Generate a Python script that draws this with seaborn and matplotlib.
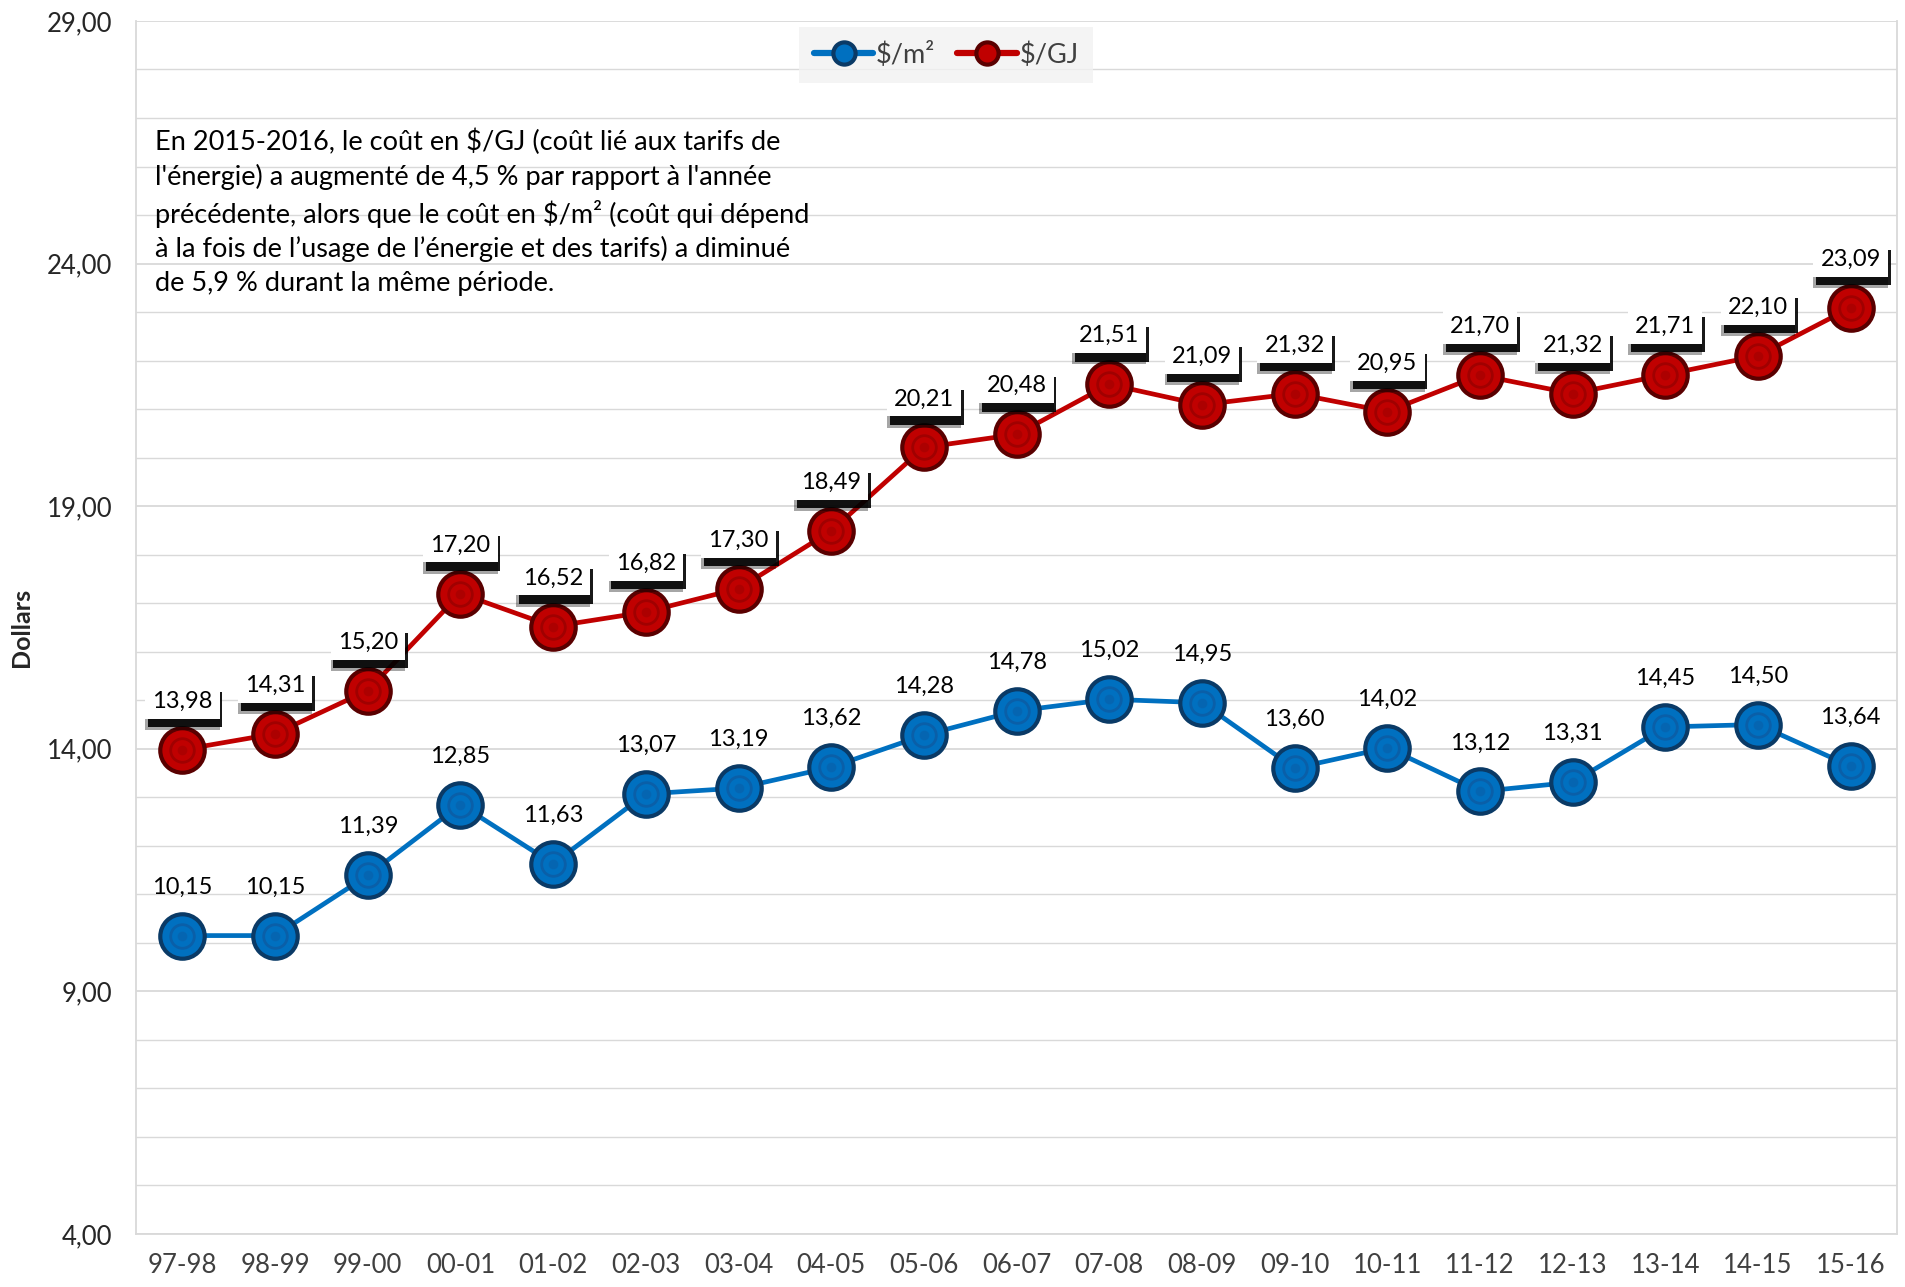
import matplotlib
matplotlib.use("Agg")
import matplotlib.pyplot as plt
import matplotlib.patheffects as pe
import seaborn as sns
import pandas as pd
import numpy as np

# ==============================
# Data
# ==============================
years = ["97-98", "98-99", "99-00", "00-01", "01-02", "02-03", "03-04", "04-05",
         "05-06", "06-07", "07-08", "08-09", "09-10", "10-11", "11-12", "12-13",
         "13-14", "14-15", "15-16"]
cost_m2 = [10.15, 10.15, 11.39, 12.85, 11.63, 13.07, 13.19, 13.62, 14.28, 14.78,
           15.02, 14.95, 13.60, 14.02, 13.12, 13.31, 14.45, 14.50, 13.64]
cost_gj = [13.98, 14.31, 15.20, 17.20, 16.52, 16.82, 17.30, 18.49, 20.21, 20.48,
           21.51, 21.09, 21.32, 20.95, 21.70, 21.32, 21.71, 22.10, 23.09]
y_ticks = [4, 9, 14, 19, 24, 29]
note = ("En 2015-2016, le coût en $/GJ (coût lié aux tarifs de\n"
        "l'énergie) a augmenté de 4,5 % par rapport à l'année\n"
        "précédente, alors que le coût en $/m² (coût qui dépend\n"
        "à la fois de l’usage de l’énergie et des tarifs) a diminué\n"
        "de 5,9 % durant la même période.")

df = pd.DataFrame({"idx": np.arange(len(years)), "m2": cost_m2, "gj": cost_gj})

sns.set_style("white")
plt.rcParams["font.family"] = ["Lato", "DejaVu Sans"]

fig = plt.figure(figsize=(19.06, 12.87), dpi=100)
ax = fig.add_axes([0.0714, 0.0412, 0.9239, 0.9425])

grid_c = "#d9d9d9"
for v in np.arange(4, 30, 1):
    ax.axhline(v, color=grid_c, lw=1.3 if v in y_ticks else 1.0, zorder=0)

series = [("m2", "$/m²", "#0070c0", "#0a3a66", "#0a5fa8"),
          ("gj", "$/GJ", "#c00000", "#5a0000", "#a00000")]
for col, lab, c, dark, mid in series:
    sns.lineplot(data=df, x="idx", y=col, ax=ax, color=c, lw=3.4, label=lab,
                 marker="o", markersize=32, markerfacecolor=c,
                 markeredgecolor=dark, markeredgewidth=3, zorder=3)
    ax.plot(df["idx"], df[col], ls="none", marker="o", markersize=17,
            markerfacecolor=c, markeredgecolor=mid, markeredgewidth=2, zorder=4)
    ax.plot(df["idx"], df[col], ls="none", marker="o", markersize=7,
            markerfacecolor=mid, markeredgecolor="none", alpha=0.6, zorder=5)

# data labels
for i, v in enumerate(cost_m2):
    ax.annotate(f"{v:.2f}".replace(".", ","), (i, v), xytext=(0, 35),
                textcoords="offset points", ha="center", va="center",
                fontsize=17, color="black", zorder=6)
for i, v in enumerate(cost_gj):
    t = ax.annotate(f"{v:.2f}".replace(".", ","), (i, v), xytext=(0, 35),
                    textcoords="offset points", ha="center", va="center",
                    fontsize=17, color="black", zorder=6,
                    bbox=dict(boxstyle="square,pad=0.3", fc="white", ec="none"))
    t.get_bbox_patch().set_path_effects([
        pe.SimplePatchShadow(offset=(0, -8), shadow_rgbFace="black", alpha=0.35),
        pe.SimplePatchShadow(offset=(2, -6), shadow_rgbFace="black", alpha=0.9),
        pe.Normal()])

ax.text(0.011, 0.911, note, transform=ax.transAxes, ha="left", va="top",
        fontsize=19.5, linespacing=1.41, color="black")

ax.set_xlim(-0.5, len(years) - 0.5)
ax.set_ylim(4, 29)
ax.set_yticks(y_ticks)
ax.set_yticklabels([f"{v:.2f}".replace(".", ",") for v in y_ticks], fontsize=18.5)
ax.set_xticks(df["idx"])
ax.set_xticklabels(years, fontsize=18.5, color="#404040")
ax.set_xticks(np.arange(-0.5, len(years), 1), minor=True)
ax.tick_params(axis="x", which="major", length=0, pad=14)
ax.tick_params(axis="x", which="minor", length=9, color=grid_c, width=1.3)
ax.tick_params(axis="y", length=9, color=grid_c, width=1.3, pad=8)
ax.set_xlabel("")
ax.set_ylabel("Dollars", fontsize=18, fontweight="bold", labelpad=10)

for s in ["left", "bottom", "right"]:
    ax.spines[s].set_color(grid_c)
    ax.spines[s].set_linewidth(1.3)
ax.spines["top"].set_visible(False)

leg = ax.legend(loc="upper center", bbox_to_anchor=(0.46, 0.995), ncol=2,
                fontsize=19.5, frameon=True, fancybox=False, handlelength=2.2,
                handletextpad=0.1, columnspacing=0.8, borderpad=0.55,
                borderaxespad=0, markerscale=0.5)
leg.get_frame().set_facecolor("#f2f2f2")
leg.get_frame().set_edgecolor("none")
for line in leg.get_lines():
    line.set_linewidth(4.5)
for txt in leg.get_texts():
    txt.set_color("#404040")

fig.savefig("out.png", dpi=100)
